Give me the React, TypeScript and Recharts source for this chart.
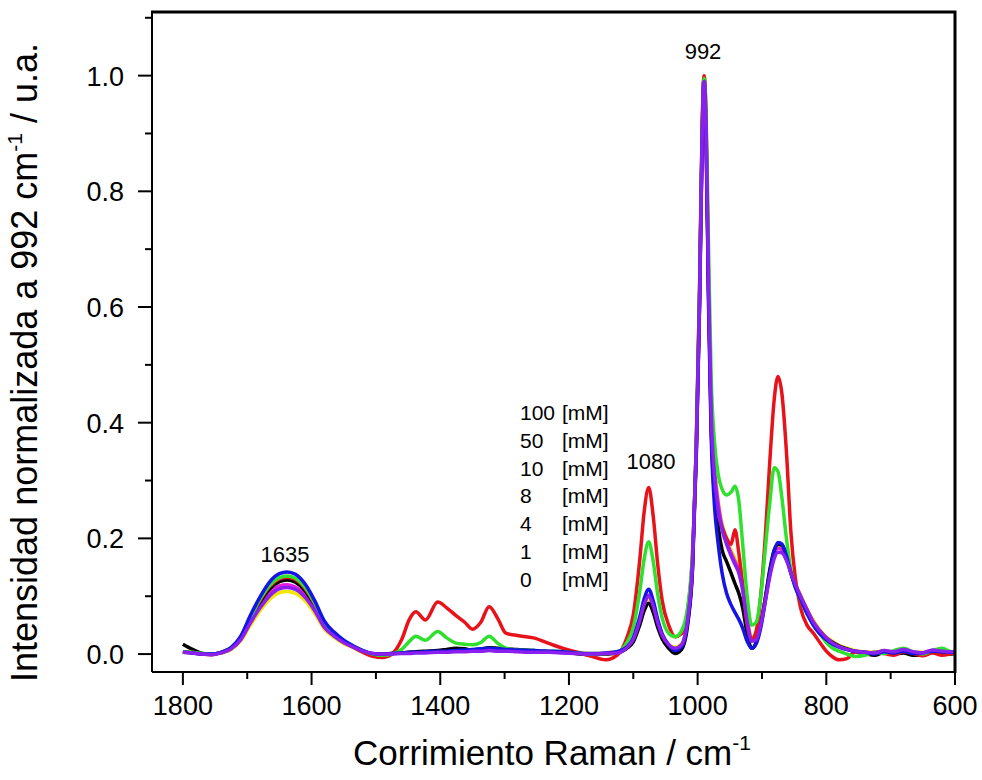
import { Line, LineChart, XAxis, YAxis } from "recharts";

const FONT = "'Liberation Sans', Arial, sans-serif";

// Raman shift (cm-1), shared by all spectra
const shift = [
  1800, 1785, 1770, 1755, 1740, 1725, 1710, 1695, 1680, 1665, 1650, 1638, 1625, 1610, 1595, 1580, 1565, 1550, 1535, 1520, 1505,
  1490, 1475, 1460, 1448, 1438, 1423, 1404, 1390, 1376, 1362, 1350, 1337, 1324, 1310, 1298, 1280, 1255, 1230, 1210, 1190, 1165, 1143, 1125,
  1110, 1100, 1090, 1083, 1076, 1069, 1062, 1055, 1045, 1035,
  1025, 1015, 1008, 1002, 997, 993, 990, 987, 983, 979,
  974, 968, 962, 955, 948, 942, 936, 930, 923, 916, 909, 902, 895, 888, 881, 875, 869, 862, 855, 848,
  840, 830, 820, 810, 800, 790, 780, 768, 755, 740, 725, 710, 695, 680, 665, 650, 635, 620, 605, 600,
];

const mM0 = [
  0.017, 0.008, 0.001, 0, 0.003, 0.01, 0.028, 0.06, 0.09, 0.113, 0.125, 0.128, 0.124, 0.109, 0.083, 0.051, 0.035, 0.022, 0.013, 0.005, 0,
  0, 0.001, 0.002, 0.003, 0.004, 0.005, 0.006, 0.008, 0.01, 0.009, 0.007, 0.009, 0.011, 0.01, 0.009, 0.008, 0.006, 0.004, 0.003, 0.001, -0.001, 0, 0.002,
  0.01, 0.021, 0.05, 0.075, 0.088, 0.072, 0.046, 0.026, 0.01, 0.001,
  0.008, 0.055, 0.145, 0.35, 0.61, 0.89, 0.995, 0.91, 0.62, 0.4,
  0.29, 0.22, 0.18, 0.16, 0.14, 0.122, 0.105, 0.08, 0.035, 0.01, 0.02, 0.05, 0.095, 0.145, 0.18, 0.19, 0.188, 0.17, 0.14, 0.117,
  0.098, 0.073, 0.05, 0.036, 0.026, 0.02, 0.014, 0.009, 0.004, 0.001, -0.002, 0.003, 0, 0.002, -0.002, -0.001, 0.003, 0.002, 0, 0.002,
];

const mM1 = [
  0.003, 0.002, 0, 0, 0.003, 0.011, 0.031, 0.067, 0.099, 0.125, 0.139, 0.142, 0.138, 0.121, 0.092, 0.057, 0.038, 0.024, 0.014, 0.006, 0.001,
  0, 0.001, 0.002, 0.003, 0.003, 0.004, 0.005, 0.005, 0.006, 0.007, 0.008, 0.009, 0.01, 0.009, 0.008, 0.007, 0.006, 0.005, 0.004, 0.002, 0.001, 0.002, 0.004,
  0.012, 0.028, 0.064, 0.096, 0.112, 0.092, 0.06, 0.035, 0.016, 0.006,
  0.012, 0.06, 0.15, 0.35, 0.6, 0.88, 0.99, 0.9, 0.6, 0.38,
  0.26, 0.19, 0.14, 0.105, 0.085, 0.072, 0.06, 0.045, 0.022, 0.01, 0.018, 0.045, 0.09, 0.14, 0.178, 0.193, 0.19, 0.17, 0.14, 0.115,
  0.095, 0.07, 0.05, 0.035, 0.025, 0.017, 0.012, 0.008, 0.005, 0.003, 0, 0.004, 0.002, 0.005, 0.001, 0.002, 0.005, 0.004, 0.003, 0.004,
];

const mM4 = [
  0.003, 0.002, 0, -0.001, 0.002, 0.009, 0.025, 0.054, 0.08, 0.101, 0.113, 0.115, 0.112, 0.098, 0.075, 0.046, 0.031, 0.02, 0.012, 0.005, 0.001,
  0, 0, 0.001, 0.001, 0.002, 0.002, 0.003, 0.003, 0.004, 0.004, 0.005, 0.005, 0.006, 0.005, 0.005, 0.004, 0.003, 0.003, 0.002, 0.001, 0, 0.001, 0.002,
  0.011, 0.025, 0.057, 0.086, 0.1, 0.083, 0.054, 0.032, 0.016, 0.01,
  0.016, 0.065, 0.155, 0.36, 0.61, 0.89, 0.99, 0.91, 0.63, 0.42,
  0.31, 0.25, 0.215, 0.19, 0.17, 0.155, 0.14, 0.11, 0.055, 0.022, 0.025, 0.05, 0.09, 0.133, 0.165, 0.176, 0.175, 0.162, 0.14, 0.12,
  0.1, 0.077, 0.055, 0.04, 0.028, 0.019, 0.013, 0.008, 0.005, 0.003, 0.002, 0.006, 0.004, 0.008, 0.004, 0.002, 0.007, 0.005, 0.004, 0.005,
];

const mM8 = [
  0.004, 0.003, 0.001, 0, 0.002, 0.008, 0.023, 0.05, 0.075, 0.095, 0.106, 0.108, 0.105, 0.092, 0.07, 0.043, 0.029, 0.018, 0.011, 0.004, 0,
  0, 0.001, 0.002, 0.003, 0.003, 0.004, 0.004, 0.005, 0.005, 0.006, 0.006, 0.007, 0.008, 0.007, 0.006, 0.006, 0.005, 0.004, 0.003, 0.002, 0.001, 0.002, 0.004,
  0.011, 0.024, 0.055, 0.082, 0.096, 0.08, 0.052, 0.031, 0.016, 0.012,
  0.018, 0.068, 0.16, 0.37, 0.63, 0.91, 1.0, 0.93, 0.65, 0.43,
  0.33, 0.265, 0.225, 0.2, 0.18, 0.165, 0.15, 0.12, 0.065, 0.03, 0.03, 0.055, 0.095, 0.142, 0.175, 0.187, 0.185, 0.168, 0.145, 0.122,
  0.102, 0.078, 0.058, 0.042, 0.03, 0.022, 0.015, 0.01, 0.006, 0.004, 0.003, 0.006, 0.004, 0.007, 0.003, 0.003, 0.006, 0.004, 0.004, 0.004,
];

const mM10 = [
  0.004, 0.002, 0, 0, 0.003, 0.01, 0.026, 0.056, 0.084, 0.106, 0.118, 0.12, 0.116, 0.102, 0.078, 0.048, 0.032, 0.02, 0.012, 0.005, 0,
  0, 0.001, 0.002, 0.002, 0.003, 0.003, 0.004, 0.005, 0.006, 0.006, 0.007, 0.008, 0.009, 0.008, 0.007, 0.006, 0.005, 0.004, 0.003, 0.002, 0, 0.001, 0.003,
  0.011, 0.025, 0.058, 0.087, 0.102, 0.084, 0.055, 0.032, 0.015, 0.008,
  0.015, 0.065, 0.155, 0.36, 0.62, 0.9, 0.998, 0.92, 0.64, 0.42,
  0.32, 0.26, 0.22, 0.195, 0.175, 0.16, 0.145, 0.115, 0.06, 0.025, 0.028, 0.055, 0.095, 0.14, 0.172, 0.183, 0.18, 0.165, 0.142, 0.12,
  0.1, 0.076, 0.055, 0.04, 0.028, 0.02, 0.013, 0.008, 0.005, 0.003, 0.002, 0.005, 0.004, 0.007, 0.003, 0.002, 0.006, 0.005, 0.004, 0.005,
];

const mM50 = [
  0.004, 0.003, 0.001, 0, 0.003, 0.011, 0.03, 0.063, 0.095, 0.119, 0.132, 0.135, 0.131, 0.115, 0.088, 0.054, 0.036, 0.023, 0.014, 0.006, 0,
  -0.002, 0, 0.008, 0.022, 0.031, 0.024, 0.039, 0.028, 0.019, 0.017, 0.016, 0.02, 0.031, 0.018, 0.01, 0.007, 0.006, 0.005, 0.004, 0.002, 0, 0.001, 0.003,
  0.02, 0.046, 0.108, 0.165, 0.194, 0.16, 0.103, 0.062, 0.036, 0.03,
  0.04, 0.085, 0.175, 0.37, 0.63, 0.9, 0.995, 0.94, 0.7, 0.48,
  0.37, 0.31, 0.285, 0.275, 0.28, 0.29, 0.265, 0.19, 0.1, 0.05, 0.055, 0.1, 0.18, 0.26, 0.322, 0.315, 0.27, 0.2, 0.145, 0.115,
  0.095, 0.07, 0.05, 0.035, 0.02, 0.01, 0.005, 0, -0.004, -0.002, 0.003, 0.001, 0.006, 0.01, 0.004, 0, 0.006, 0.01, 0.004, 0.005,
];

const mM100 = [
  0.003, 0.002, 0, -0.001, 0.003, 0.011, 0.029, 0.063, 0.093, 0.117, 0.13, 0.133, 0.129, 0.113, 0.086, 0.053, 0.036, 0.022, 0.012, 0.003, -0.004,
  -0.006, 0, 0.025, 0.06, 0.073, 0.059, 0.09, 0.08, 0.067, 0.055, 0.043, 0.055, 0.082, 0.06, 0.036, 0.032, 0.028, 0.018, 0.01, 0.004, -0.004, -0.01, -0.002,
  0.028, 0.068, 0.162, 0.247, 0.288, 0.238, 0.155, 0.092, 0.05, 0.03,
  0.035, 0.08, 0.17, 0.37, 0.63, 0.91, 1.0, 0.93, 0.64, 0.4,
  0.28, 0.24, 0.22, 0.2, 0.19, 0.215, 0.175, 0.12, 0.05, 0.026, 0.04, 0.1, 0.2, 0.33, 0.44, 0.48, 0.45, 0.35, 0.21, 0.13,
  0.08, 0.05, 0.036, 0.02, 0.005, -0.005, -0.01, -0.008, 0.004, 0, 0.003, 0.001, -0.002, 0.004, 0.001, -0.003, 0.002, -0.002, 0.001, 0.002,
];

const legendRows = ["100", "50", "10", "8", "4", "1", "0"];
const xTicks = [600, 700, 800, 900, 1000, 1100, 1200, 1300, 1400, 1500, 1600, 1700, 1800];
const yTicks = [0, 0.1, 0.2, 0.3, 0.4, 0.5, 0.6, 0.7, 0.8, 0.9, 1.0, 1.1];
const X_DOMAIN = [600, 1848];
const Y_DOMAIN = [-0.031, 1.11];

// drawing order: last one ends up on top
const SERIES = [
  { key: "mM8", name: "8 mM", color: "#f2e600", values: mM8 },
  { key: "mM10", name: "10 mM", color: "#e21fe2", values: mM10 },
  { key: "mM0", name: "0 mM", color: "#000000", values: mM0 },
  { key: "mM100", name: "100 mM", color: "#e8121a", values: mM100 },
  { key: "mM50", name: "50 mM", color: "#2fe02f", values: mM50 },
  { key: "mM1", name: "1 mM", color: "#1414e6", values: mM1 },
  { key: "mM4", name: "4 mM", color: "#8a1ff0", values: mM4 },
];

const rows = shift.map((x, i) => {
  const row: Record<string, number> = { x };
  SERIES.forEach((s) => {
    row[s.key] = s.values[i];
  });
  return row;
});

// plot box, matches the chart margins / axis sizes below
const BOX = { left: 152, top: 12, right: 955, bottom: 672 };

function YTick({ x, y, payload }: any) {
  const v = payload.value as number;
  const major = Math.round(v * 10) % 2 === 0;
  return (
    <g>
      <line x1={x} y1={y} x2={x - (major ? 14 : 7)} y2={y} stroke="#000" strokeWidth={2} />
      {major && (
        <text x={x - 28} y={y + 10} textAnchor="end" fontSize={27} fontFamily={FONT} fill="#000">
          {v.toFixed(1)}
        </text>
      )}
    </g>
  );
}

function XTick({ x, y, payload }: any) {
  const v = payload.value as number;
  const major = v % 200 === 0;
  return (
    <g>
      <line x1={x} y1={y} x2={x} y2={y + (major ? 13 : 7)} stroke="#000" strokeWidth={2} />
      {major && (
        <text x={x} y={y + 43} textAnchor="middle" fontSize={27} fontFamily={FONT} fill="#000">
          {v}
        </text>
      )}
    </g>
  );
}

export default function App() {
  return (
    <div
      style={{
        position: "absolute",
        left: 0,
        top: 0,
        width: 982,
        height: 780,
        background: "#fff",
        fontFamily: FONT,
      }}
    >
      <LineChart
        width={982}
        height={780}
        data={rows}
        margin={{ top: BOX.top, right: 982 - BOX.right, bottom: 0, left: 0 }}
      >
        <XAxis
          dataKey="x"
          type="number"
          domain={X_DOMAIN}
          reversed
          ticks={xTicks}
          interval={0}
          height={780 - BOX.bottom}
          tickSize={0}
          tickMargin={0}
          tick={<XTick />}
          axisLine={{ stroke: "#000", strokeWidth: 2 }}
        />
        <YAxis
          type="number"
          domain={Y_DOMAIN}
          ticks={yTicks}
          interval={0}
          width={BOX.left}
          tickSize={0}
          tickMargin={0}
          tick={<YTick />}
          axisLine={{ stroke: "#000", strokeWidth: 2 }}
          allowDataOverflow
        />
        {SERIES.map((s) => (
          <Line
            key={s.key}
            dataKey={s.key}
            name={s.name}
            type="monotone"
            stroke={s.color}
            strokeWidth={3.5}
            strokeLinejoin="round"
            dot={false}
            activeDot={false}
            isAnimationActive={false}
          />
        ))}
      </LineChart>

      <svg
        width={982}
        height={780}
        style={{ position: "absolute", left: 0, top: 0, pointerEvents: "none" }}
        fontFamily={FONT}
      >
        {/* top and right edges of the frame */}
        <path
          d={`M ${BOX.left - 1} ${BOX.top} H ${BOX.right} V ${BOX.bottom + 1}`}
          fill="none"
          stroke="#000"
          strokeWidth={3}
        />
        <text x={703} y={59} textAnchor="middle" fontSize={22}>992</text>
        <text x={285} y={562} textAnchor="middle" fontSize={22}>1635</text>
        <text x={651} y={469} textAnchor="middle" fontSize={22}>1080</text>
        {legendRows.map((label, i) => (
          <g key={label} fontSize={21}>
            <text x={520} y={420 + i * 27.8}>{label}</text>
            <text x={562} y={420 + i * 27.8}>[mM]</text>
          </g>
        ))}
        <text x={353} y={765} fontSize={35}>
          Corrimiento Raman / cm
          <tspan fontSize={21} dy={-15}>-1</tspan>
        </text>
        <text x={37} y={682} fontSize={36} transform="rotate(-90 37 682)">
          Intensidad normalizada a 992 cm
          <tspan fontSize={21} dy={-15}>-1</tspan>
          <tspan dy={15}> / u.a.</tspan>
        </text>
      </svg>
    </div>
  );
}
